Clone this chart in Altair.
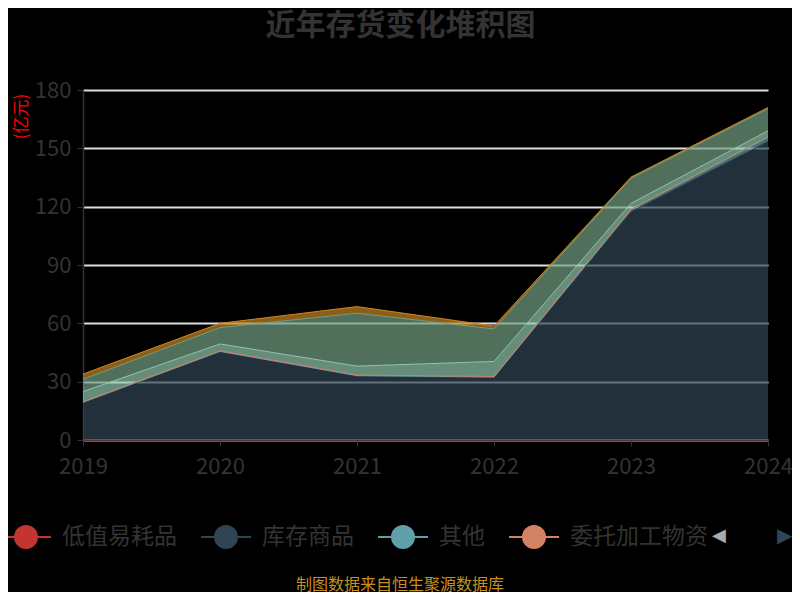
import altair as alt
import pandas as pd

years = ["2019", "2020", "2021", "2022", "2023", "2024"]

series_names = ["低值易耗品", "库存商品", "其他", "委托加工物资", "原材料", "在产品", "发出商品"]
series_colors = ["#c23531", "#2f4554", "#61a0a8", "#d48265", "#91c7ae", "#749f83", "#ca8622"]

low_value = [0.1, 0.1, 0.1, 0.1, 0.1, 0.1]
goods = [19.1, 45.3, 32.8, 32.1, 117.3, 153.4]
other = [0.2, 0.2, 0.2, 0.2, 1.0, 2.2]
consigned = [0.3, 0.3, 0.3, 0.3, 0.3, 0.3]
raw = [5.2, 3.5, 4.6, 7.7, 3.0, 3.0]
wip = [6.3, 8.4, 27.2, 16.7, 12.9, 11.3]
shipped = [2.7, 2.2, 3.4, 1.5, 0.6, 0.7]

legend_shown = ["低值易耗品", "库存商品", "其他", "委托加工物资"]

all_values = [low_value, goods, other, consigned, raw, wip, shipped]
rows = []
for i, (name, vals) in enumerate(zip(series_names, all_values)):
    for y, v in zip(years, vals):
        rows.append({"year": y, "series": name, "idx": i, "value": v})
df = pd.DataFrame(rows)

font = "Noto Sans CJK SC"
# line with a dot in the middle, like the echarts line legend icon
legend_icon = "M-1,0H-0.44M0.44,0H1M-0.44,0A0.44,0.44,0,1,1,0.44,0A0.44,0.44,0,1,1,-0.44,0Z"

color_scale = alt.Scale(domain=series_names, range=series_colors)
legend = alt.Legend(
    title=None,
    orient="none",
    legendX=-83,
    legendY=421,
    direction="horizontal",
    values=legend_shown,
    symbolType=legend_icon,
    symbolSize=2500,
    symbolStrokeWidth=2,
    symbolOpacity=1,
    labelFontSize=23,
    labelColor="#333",
    labelFont=font,
    labelOffset=10,
    columnPadding=20,
)

x_enc = alt.X(
    "year:O",
    scale=alt.Scale(type="point", padding=0),
    axis=alt.Axis(title=None, labelAngle=0, grid=False, labelPadding=10),
)

base = (
    alt.Chart(df)
    .transform_window(
        top="sum(value)", groupby=["year"], sort=[{"field": "idx"}], frame=[None, 0]
    )
    .transform_calculate(bottom="datum.top - datum.value")
)

areas = base.mark_area(fillOpacity=0.7, strokeWidth=0).encode(
    x=x_enc,
    y=alt.Y(
        "top:Q",
        scale=alt.Scale(domain=[0, 180]),
        axis=alt.Axis(
            values=[0, 30, 60, 90, 120, 150, 180],
            title="(亿元)",
            titleColor="red",
            titleFontSize=17,
            titleFontWeight="normal",
            titleAngle=-90,
            titleX=-62,
            titleY=26,
            titleAlign="center",
            titleBaseline="middle",
        ),
    ),
    y2="bottom:Q",
    fill=alt.Fill("series:N", scale=color_scale, legend=legend),
    stroke=alt.Stroke("series:N", scale=color_scale, legend=legend),
    detail="idx:O",
)

lines = base.mark_line(strokeWidth=1).encode(
    x=x_enc,
    y="top:Q",
    stroke=alt.Stroke("series:N", scale=color_scale, legend=None),
    detail="idx:O",
)

footer = (
    alt.Chart(pd.DataFrame({"t": ["制图数据来自恒生聚源数据库"]}))
    .mark_text(fontSize=16, color="#c8901e", font=font, baseline="middle")
    .encode(text="t:N", x=alt.value(317), y=alt.value(495))
)

# legend page arrows (echarts scroll legend)
page_prev = (
    alt.Chart(pd.DataFrame({"t": ["◀"]}))
    .mark_text(fontSize=18, color="#aaaaaa", baseline="middle", align="left")
    .encode(text="t:N", x=alt.value(629), y=alt.value(446))
)
page_next = (
    alt.Chart(pd.DataFrame({"t": ["▶"]}))
    .mark_text(fontSize=20, color="#2f4554", baseline="middle", align="right")
    .encode(text="t:N", x=alt.value(709), y=alt.value(446))
)

chart = (
    alt.layer(areas, lines, footer, page_prev, page_next)
    .properties(
        width=685,
        height=350,
        autosize=alt.AutoSizeParams(type="none"),
        padding={"left": 75, "top": 82, "right": 24, "bottom": 152},
        background="#000000",
        title=alt.TitleParams(
            "近年存货变化堆积图",
            fontSize=30,
            fontWeight="bold",
            color="#333",
            font=font,
            anchor="middle",
            dx=-25,
            offset=38,
        ),
    )
    .configure_view(stroke=None)
    .configure_axis(
        labelFont=font,
        labelFontSize=22,
        labelColor="#333",
        domainColor="#333",
        domainWidth=1.5,
        tickColor="#333",
        tickSize=6,
        titleFont=font,
    )
    .configure_axisY(gridColor="#ddd", gridWidth=2, labelPadding=6)
)

chart.save("out.html", embed_options={"renderer": "svg", "actions": False})
